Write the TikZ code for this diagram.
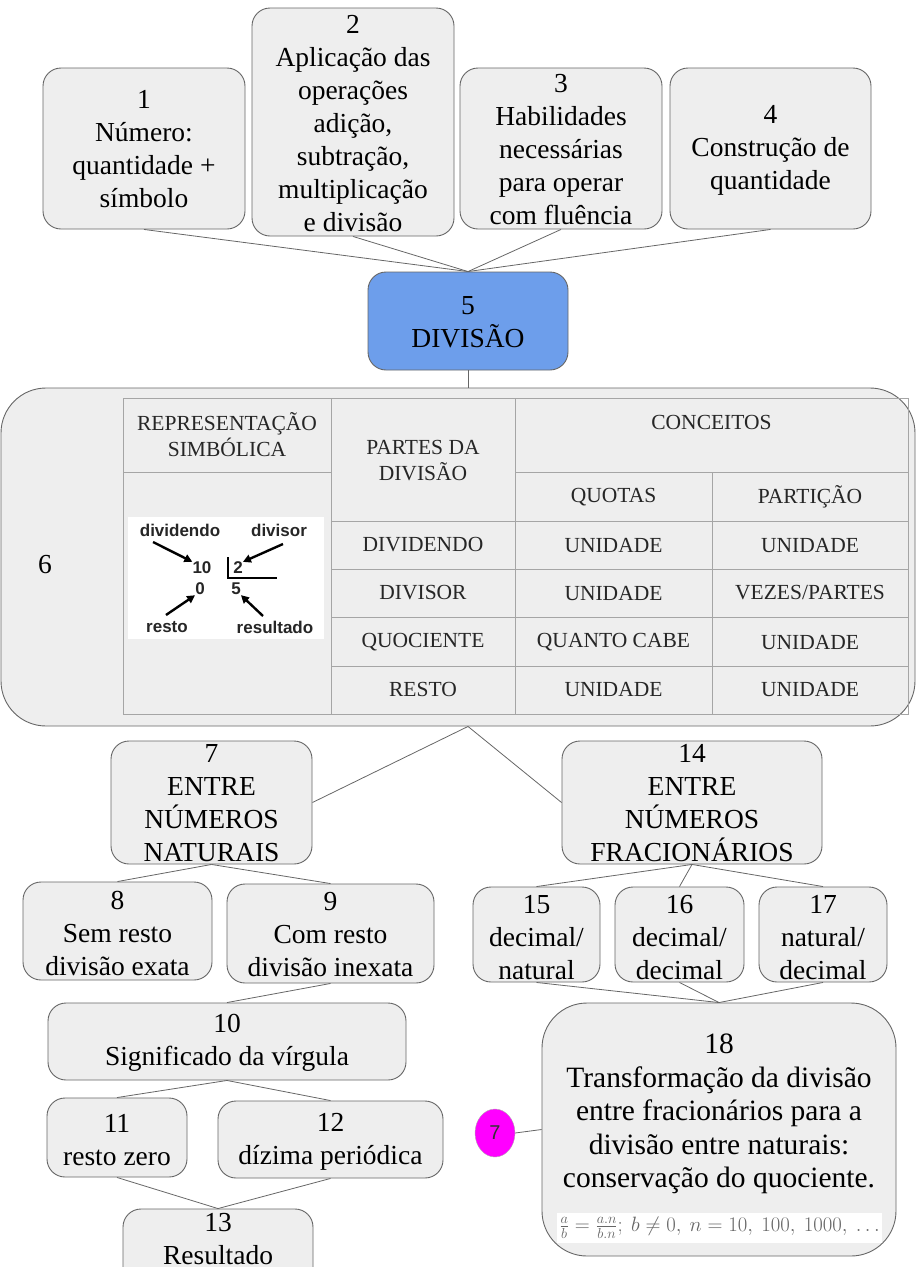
\documentclass[tikz,border=0pt]{standalone}
\usepackage{fontspec}
\setmainfont{Liberation Serif}
\newfontfamily\figsans{Liberation Sans}
\usetikzlibrary{arrows.meta,shapes.geometric}

\definecolor{boxfill}{HTML}{EEEEEE}
\definecolor{boxline}{HTML}{666666}
\definecolor{gridline}{HTML}{A5A5A5}
\definecolor{divblue}{HTML}{6D9EEB}
\definecolor{tagpink}{HTML}{FF00FF}

\tikzset{
  box/.style={draw=boxline, fill=boxfill, rounded corners=18, line width=0.9pt, inner sep=0pt},
  bigbox/.style={box, rounded corners=45},
  txt/.style={align=center, font=\fontsize{27.5}{33}\selectfont, inner sep=0pt},
  cell/.style={align=center, font=\fontsize{21.5}{26}\selectfont, text=black!85, inner sep=0pt},
  link/.style={draw=boxline, line width=0.8pt},
  fig/.style={font=\figsans\bfseries\fontsize{17}{20}\selectfont, text=black!85, inner sep=0pt},
  figarrow/.style={-{Triangle[length=8pt,width=8pt]}, line width=2.4pt},
}

\begin{document}
\begin{tikzpicture}[x=1pt, y=-1pt]
    \useasboundingbox (0,0) rectangle (917,1267);

    % Top row
    \node[box, minimum width=202, minimum height=161] (b1) at (144,148.5) {};
    \node[box, minimum width=202, minimum height=228] (b2) at (353,122) {};
    \node[box, minimum width=202, minimum height=161] (b3) at (561,148.5) {};
    \node[box, minimum width=201, minimum height=161] (b4) at (770.5,148.5) {};

    % Central concept
    \node[box, fill=divblue, minimum width=200, minimum height=98] (b5) at (468,321) {};
    \node[bigbox, minimum width=914, minimum height=338] (b6) at (458,557) {};

    % Left branch
    \node[box, minimum width=201, minimum height=123] (b7) at (211.5,802.5) {};
    \node[box, minimum width=189, minimum height=98] (b8) at (117.5,931) {};
    \node[box, minimum width=207, minimum height=99] (b9) at (330.5,933.5) {};
    \node[box, minimum width=358, minimum height=77] (b10) at (227,1041.5) {};
    \node[box, minimum width=140, minimum height=79] (b11) at (117,1137.5) {};
    \node[box, minimum width=225, minimum height=77] (b12) at (330.5,1139.5) {};
    \node[box, minimum width=190, minimum height=81] (b13) at (218,1249.5) {};

    % Right branch
    \node[box, minimum width=260, minimum height=123] (b14) at (692,802.5) {};
    \node[box, minimum width=127, minimum height=95] (b15) at (536.5,934.5) {};
    \node[box, minimum width=129, minimum height=95] (b16) at (679.5,934.5) {};
    \node[box, minimum width=128, minimum height=95] (b17) at (823,934.5) {};
    \node[bigbox, minimum width=354, minimum height=253] (b18) at (719,1129.5) {};
    \node[ellipse, fill=tagpink, draw=boxline!50, minimum width=40, minimum height=48, inner sep=0pt,
          font=\figsans\fontsize{20}{22}\selectfont, text=black!80] (tag7) at (495,1133) {7};

    % Connectors
    \draw[link] (b1.south) -- (b5.north);
    \draw[link] (b2.south) -- (b5.north);
    \draw[link] (b3.south) -- (b5.north);
    \draw[link] (b4.south) -- (b5.north);
    \draw[link] (b5.south) -- (b5.south |- b6.north);
    \draw[link] (b5.south |- b6.south) -- (b7.east);
    \draw[link] (b5.south |- b6.south) -- (b14.west);
    \draw[link] (b7.south) -- (b8.north);
    \draw[link] (b7.south) -- (b9.north);
    \draw[link] (b9.south) -- (b10.north);
    \draw[link] (b10.south) -- (b11.north);
    \draw[link] (b10.south) -- (b12.north);
    \draw[link] (b11.south) -- (b13.north);
    \draw[link] (b12.south) -- (b13.north);
    \draw[link] (b14.south) -- (b15.north);
    \draw[link] (b14.south) -- (b16.north);
    \draw[link] (b14.south) -- (b17.north);
    \draw[link] (b15.south) -- (b18.north);
    \draw[link] (b16.south) -- (b18.north);
    \draw[link] (b17.south) -- (b18.north);
    \draw[link] (tag7.east) -- (b18.west);

    % Texts
    \node[txt] (t1) at (144,149.5) {1\\Número:\\quantidade +\\símbolo};
    \node[txt] (t2) at (353,124) {2\\Aplicação das\\operações\\adição,\\subtração,\\multiplicação\\e divisão};
    \node[txt] (t3) at (561,150) {3\\Habilidades\\necessárias\\para operar\\com fluência};
    \node[txt] (t4) at (770.5,150) {4\\Construção de\\quantidade};
    \node[txt] (t5) at (468,322) {5\\DIVISÃO};
    \node[txt] (t6) at (45,565) {6};
    \node[txt] (t7) at (211.5,803) {7\\ENTRE\\NÚMEROS\\NATURAIS};
    \node[txt] (t8) at (117.5,933) {8\\Sem resto\\divisão exata};
    \node[txt] (t9) at (330.5,935) {9\\Com resto\\divisão inexata};
    \node[txt] (t10) at (227,1042.5) {10\\Significado da vírgula};
    \node[txt] (t11) at (117,1140) {11\\resto zero};
    \node[txt] (t12) at (330.5,1142) {12\\dízima periódica};
    \node[txt] (t13) at (218,1239.5) {13\\Resultado};
    \node[txt] (t14) at (692,803) {14\\ENTRE\\NÚMEROS\\FRACIONÁRIOS};
    \node[txt] (t15) at (536.5,937.5) {15\\decimal/\\natural};
    \node[txt] (t16) at (679.5,937.5) {16\\decimal/\\decimal};
    \node[txt] (t17) at (823,937.5) {17\\natural/\\decimal};
    \node[txt, font=\fontsize{29.5}{33.5}\selectfont] (t18) at (719,1114)
        {18\\Transformação da divisão\\entre fracionários para a\\divisão entre naturais:\\conservação do quociente.};
    \node[fill=white, minimum width=325, minimum height=30, inner sep=0pt, text=black!60,
          font=\fontsize{19.5}{22}\selectfont] (f18) at (719.5,1228)
        {$\frac{a}{b}=\frac{a.n}{b.n};\ b\neq 0,\ n=10,\ 100,\ 1000,\ \ldots$};

    % Table grid
    \draw[gridline, line width=0.8pt] (123,398) rectangle (908,714);
    \draw[gridline, line width=0.8pt] (331,398) -- (331,714);
    \draw[gridline, line width=0.8pt] (515,398) -- (515,714);
    \draw[gridline, line width=0.8pt] (712,472) -- (712,714);
    \draw[gridline, line width=0.8pt] (123,472) -- (331,472);
    \draw[gridline, line width=0.8pt] (515,472) -- (908,472);
    \draw[gridline, line width=0.8pt] (331,521) -- (908,521);
    \draw[gridline, line width=0.8pt] (331,569) -- (908,569);
    \draw[gridline, line width=0.8pt] (331,617) -- (908,617);
    \draw[gridline, line width=0.8pt] (331,666) -- (908,666);

    % Table texts
    \node[cell] (hrep) at (227,435) {REPRESENTAÇÃO\\SIMBÓLICA};
    \node[cell] (hpart) at (423,460.5) {PARTES DA\\DIVISÃO};
    \node[cell] (hconc) at (711.5,422) {CONCEITOS};
    \node[cell] (hquo) at (613.5,497) {QUOTAS};
    \node[cell] (hpar) at (810,497) {PARTIÇÃO};
    \node[cell] (rdvd) at (423,545) {DIVIDENDO};
    \node[cell] (rdvs) at (423,593) {DIVISOR};
    \node[cell] (rquo) at (423,642) {QUOCIENTE};
    \node[cell] (rres) at (423,689) {RESTO};
    \node[cell] (q1) at (613.5,545) {UNIDADE};
    \node[cell] (q2) at (613.5,593) {UNIDADE};
    \node[cell] (q3) at (613.5,642) {QUANTO CABE};
    \node[cell] (q4) at (613.5,689) {UNIDADE};
    \node[cell] (p1) at (810,545) {UNIDADE};
    \node[cell] (p2) at (810,593) {VEZES/PARTES};
    \node[cell] (p3) at (810,642) {UNIDADE};
    \node[cell] (p4) at (810,689) {UNIDADE};

    % Symbolic representation
    \fill[white] (128,517) rectangle (324,639);
    \node[fig] (dvd) at (180,530) {dividendo};
    \node[fig] (dvs) at (279,530) {divisor};
    \node[fig] (n10) at (202,568) {10};
    \node[fig] (n2) at (238,568) {2};
    \node[fig] (n0) at (200,589) {0};
    \node[fig] (n5) at (236,589) {5};
    \node[fig] (rst) at (167,627) {resto};
    \node[fig] (rsl) at (275,627) {resultado};
    \draw[line width=1.5pt] (228,557) -- (228,578) -- (277,578);
    \draw[figarrow] (153,542) -- (n10.north west);
    \draw[figarrow] (283,544) -- (n2.north east);
    \draw[figarrow] (166,615) -- (n0.south west);
    \draw[figarrow] (263,616) -- (n5.south east);
\end{tikzpicture}
\end{document}
